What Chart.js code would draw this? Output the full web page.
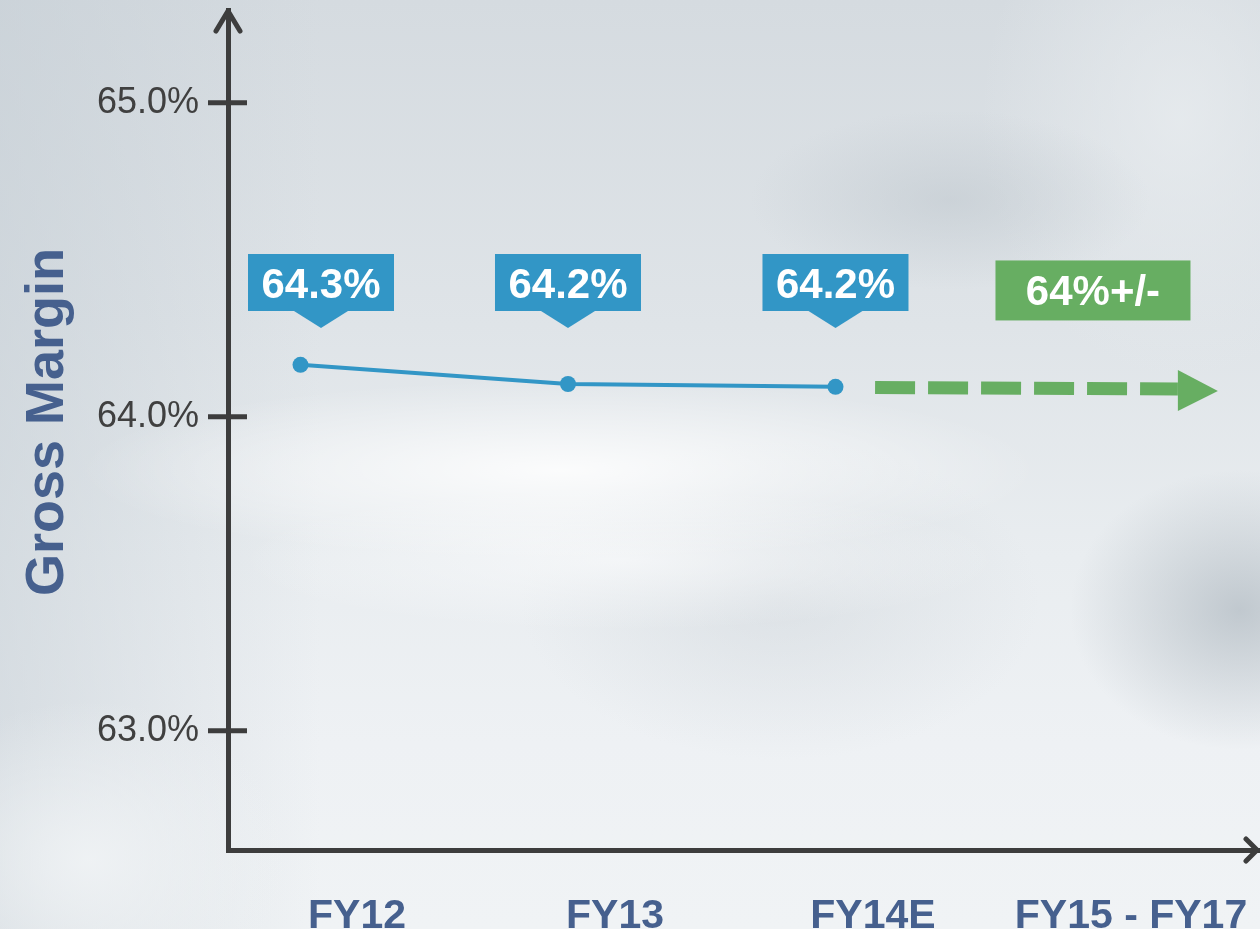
<!DOCTYPE html>
<html>
<head>
<meta charset="utf-8">
<title>Gross Margin</title>
<script src="https://cdn.jsdelivr.net/npm/chart.js@4.4.1/dist/chart.umd.min.js"></script>
<style>
  html, body {
    margin: 0;
    padding: 0;
    overflow: hidden;
  }
  body {
    width: 1260px;
    height: 929px;
    background:
      radial-gradient(ellipse 480px 90px at 560px 470px, rgba(255, 255, 255, 0.85), rgba(255, 255, 255, 0) 100%),
      radial-gradient(ellipse 380px 70px at 620px 560px, rgba(250, 251, 252, 0.7), rgba(255, 255, 255, 0) 100%),
      radial-gradient(ellipse 200px 90px at 950px 200px, rgba(184, 193, 200, 0.45), rgba(184, 193, 200, 0) 100%),
      radial-gradient(ellipse 170px 140px at 1240px 610px, rgba(170, 180, 188, 0.65), rgba(170, 180, 188, 0) 100%),
      radial-gradient(ellipse 260px 160px at 780px 600px, rgba(200, 207, 213, 0.4), rgba(200, 207, 213, 0) 100%),
      radial-gradient(ellipse 200px 260px at 1180px 120px, rgba(232, 236, 239, 0.8), rgba(232, 236, 239, 0) 100%),
      radial-gradient(ellipse 200px 160px at 90px 860px, rgba(240, 243, 245, 0.9), rgba(240, 243, 245, 0) 100%),
      linear-gradient(to right, rgba(196, 205, 212, 0.55) 0px, rgba(196, 205, 212, 0) 320px),
      linear-gradient(to bottom, #d5dbe0 0%, #dfe4e8 35%, #e9edf0 60%, #eef1f4 80%, #f0f3f5 100%);
  }
  canvas { display: block; }
</style>
</head>
<body>
<canvas id="marginChart" width="1260" height="929"></canvas>
<script>
const categories = ["FY12", "FY13", "FY14E", "FY15 - FY17"];
const actualX = [0, 1, 2];
const grossMargin = [64.165, 64.104, 64.095];
const marginLabels = ["64.3%", "64.2%", "64.2%"];
const forecastX = [2.148, 3.28];
const forecastMargin = [64.093, 64.088];
const forecastLabel = "64%+/-";
const yTicks = [63, 64, 65];

const axisColor = "#3d3d3d";
const labelBlue = "#46608e";
const lineBlue = "#3296c6";
const forecastGreen = "#67ae62";
const fontFamily = "'Liberation Sans', Arial, sans-serif";

function line(ctx, x1, y1, x2, y2) {
  ctx.beginPath();
  ctx.moveTo(x1, y1);
  ctx.lineTo(x2, y2);
  ctx.stroke();
}

const decor = {
  id: "decor",
  afterDraw(chart) {
    const { ctx, chartArea: a, scales } = chart;
    const y = scales.y;
    ctx.save();

    // crossing tick marks on the y axis
    ctx.strokeStyle = axisColor;
    ctx.lineWidth = 5;
    ctx.lineCap = "butt";
    y.ticks.forEach((t, i) => {
      const py = y.getPixelForTick(i);
      line(ctx, a.left - 20, py, a.left + 19, py);
    });

    // arrow heads on both axes
    ctx.lineCap = "round";
    ctx.lineJoin = "round";
    ctx.beginPath();
    ctx.moveTo(a.left - 12, a.top + 21);
    ctx.lineTo(a.left, a.top + 1);
    ctx.lineTo(a.left + 12, a.top + 21);
    ctx.stroke();
    ctx.beginPath();
    ctx.moveTo(a.right - 14, a.bottom - 11);
    ctx.lineTo(a.right - 3, a.bottom);
    ctx.lineTo(a.right - 14, a.bottom + 11);
    ctx.stroke();

    // forecast arrow head
    const fMeta = chart.getDatasetMeta(1);
    const end = fMeta.data[fMeta.data.length - 1];
    ctx.fillStyle = forecastGreen;
    ctx.beginPath();
    ctx.moveTo(end.x, end.y - 19);
    ctx.lineTo(end.x + 40, end.y + 2);
    ctx.lineTo(end.x, end.y + 22);
    ctx.closePath();
    ctx.fill();

    // callouts above the actual values
    const meta = chart.getDatasetMeta(0);
    const w = 146, h = 57, tail = 17, tailW = 54;
    const tipY = a.top + 318;
    ctx.font = "bold 42px " + fontFamily;
    ctx.textAlign = "center";
    ctx.textBaseline = "alphabetic";
    meta.data.forEach((pt, i) => {
      const cx = Math.max(pt.x, a.left + 20 + w / 2);
      const bottom = tipY - tail;
      ctx.fillStyle = lineBlue;
      ctx.fillRect(cx - w / 2, bottom - h, w, h);
      ctx.beginPath();
      ctx.moveTo(cx - tailW / 2, bottom);
      ctx.lineTo(cx, tipY);
      ctx.lineTo(cx + tailW / 2, bottom);
      ctx.closePath();
      ctx.fill();
      ctx.fillStyle = "#ffffff";
      ctx.fillText(marginLabels[i], cx, bottom - h / 2 + 15);
    });

    // forecast label box
    const gx = scales.xd.getPixelForValue(3) - 10;
    const gw = 195, gh = 60;
    const gBottom = fMeta.data[0].y - 67;
    ctx.fillStyle = forecastGreen;
    ctx.fillRect(gx - gw / 2, gBottom - gh, gw, gh);
    ctx.fillStyle = "#ffffff";
    ctx.fillText(forecastLabel, gx, gBottom - gh / 2 + 15);

    // rotated y axis title
    ctx.translate(63, 422);
    ctx.rotate(-Math.PI / 2);
    ctx.fillStyle = labelBlue;
    ctx.font = "bold 54px " + fontFamily;
    ctx.fillText("Gross Margin", 0, 0);

    ctx.restore();
  },
};

new Chart(document.getElementById("marginChart"), {
  type: "line",
  data: {
    labels: categories,
    datasets: [
      {
        data: actualX.map((x, i) => ({ x: x, y: grossMargin[i] })),
        xAxisID: "xd",
        borderColor: lineBlue,
        borderWidth: 4,
        pointRadius: 8,
        pointBackgroundColor: lineBlue,
        pointBorderWidth: 0,
        tension: 0,
      },
      {
        data: forecastX.map((x, i) => ({ x: x, y: forecastMargin[i] })),
        xAxisID: "xd",
        borderColor: forecastGreen,
        borderWidth: 13,
        borderDash: [40, 13],
        borderCapStyle: "butt",
        pointRadius: 0,
        tension: 0,
      },
    ],
  },
  options: {
    responsive: false,
    animation: false,
    devicePixelRatio: 1,
    layout: {
      autoPadding: false,
      padding: { top: 10, left: 0, right: 0, bottom: 0 },
    },
    plugins: { legend: { display: false }, tooltip: { enabled: false } },
    scales: {
      x: {
        type: "category",
        offset: true,
        grid: { display: false, drawTicks: false },
        border: { display: true, color: axisColor, width: 5 },
        ticks: {
          color: labelBlue,
          font: { family: fontFamily, size: 41, weight: "bold" },
          padding: 42,
          autoSkip: false,
          maxRotation: 0,
        },
        afterFit(scale) {
          scale.height = 79;
          scale.paddingLeft = 0;
          scale.paddingRight = 0;
        },
      },
      xd: {
        type: "linear",
        display: false,
        min: -0.271,
        max: 3.587,
        ticks: { display: false },
      },
      y: {
        min: 62.62,
        max: 65.295,
        grid: { display: false, drawTicks: false },
        border: { display: true, color: axisColor, width: 5 },
        ticks: {
          color: "#404040",
          font: { family: fontFamily, size: 36 },
          padding: 29,
          callback: (v) => v.toFixed(1) + "%",
        },
        afterBuildTicks(scale) {
          scale.ticks = yTicks.map((v) => ({ value: v }));
        },
        afterFit(scale) {
          scale.width = 228;
          scale.paddingTop = 0;
          scale.paddingBottom = 0;
        },
      },
    },
  },
  plugins: [decor],
});
</script>
</body>
</html>
